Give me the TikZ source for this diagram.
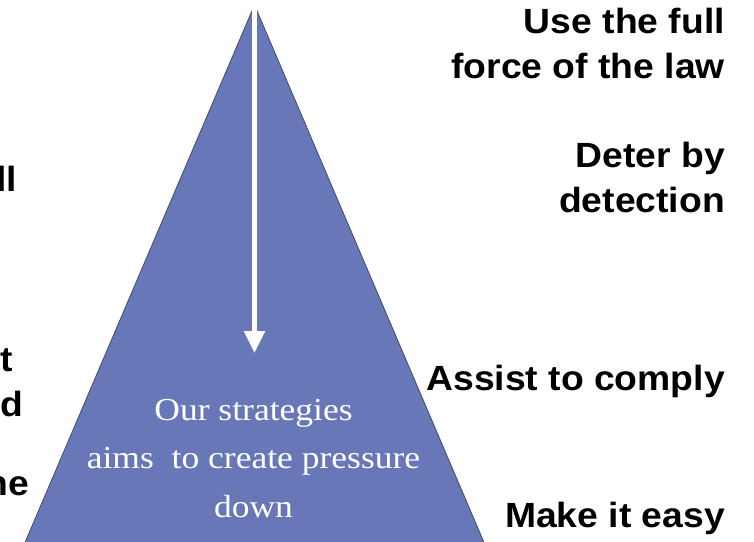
\documentclass[tikz,border=0pt]{standalone}
\usepackage{fontspec}
\setmainfont{Liberation Serif}[FakeStretch=1.11]
\setsansfont{Liberation Sans}[FakeStretch=1.065]
\usetikzlibrary{arrows.meta}
\definecolor{trifill}{RGB}{103,119,184}
\definecolor{triedge}{RGB}{66,76,104}
\tikzset{
  lbl/.style={inner sep=0pt, anchor=base east, font=\sffamily\bfseries\fontsize{35}{42}\selectfont, text=black},
  inner/.style={inner sep=0pt, anchor=base, font=\rmfamily\fontsize{32}{38}\selectfont, text=white},
  tri/.style={fill=trifill, draw=triedge, line width=0.8pt},
  pressure/.style={draw=white, line width=5pt, -{Triangle[width=20pt,length=22pt]}}
}
\begin{document}
\begin{tikzpicture}[x=1pt,y=-1pt]
\useasboundingbox (0,0) rectangle (754,541);
\clip (0,0) rectangle (754,541);
\coordinate (apex) at (254.5,5);
\coordinate (bl) at (17.5,560);
\coordinate (br) at (491.5,560);
\coordinate (top) at (254.5,-2);
\coordinate (tip) at (254.5,353);
\filldraw[tri] (apex) -- (br) -- (bl) -- cycle;
\draw[pressure] (top) -- (tip);
% right labels
\node[lbl] (r1a) at (725,33) {Use the full};
\node[lbl] (r1b) at (725,78) {force of the law};
\node[lbl] (r2a) at (725,167) {Deter by};
\node[lbl] (r2b) at (725,212) {detection};
\node[lbl] (r3) at (725,390) {Assist to comply};
\node[lbl] (r4) at (725,527) {Make it easy};
% left cut labels
\node[lbl] (l1) at (17,191) {ll};
\node[lbl] (l2) at (13,371) {t};
\node[lbl] (l3) at (23,416) {d};
\node[lbl] (l4) at (29,495) {ne};
% inner text
\node[inner] (t1) at (253.5,420) {Our strategies};
\node[inner] (t2) at (253.5,468) {aims\ \ to create pressure};
\node[inner] (t3) at (253.5,517) {down};
\end{tikzpicture}
\end{document}
